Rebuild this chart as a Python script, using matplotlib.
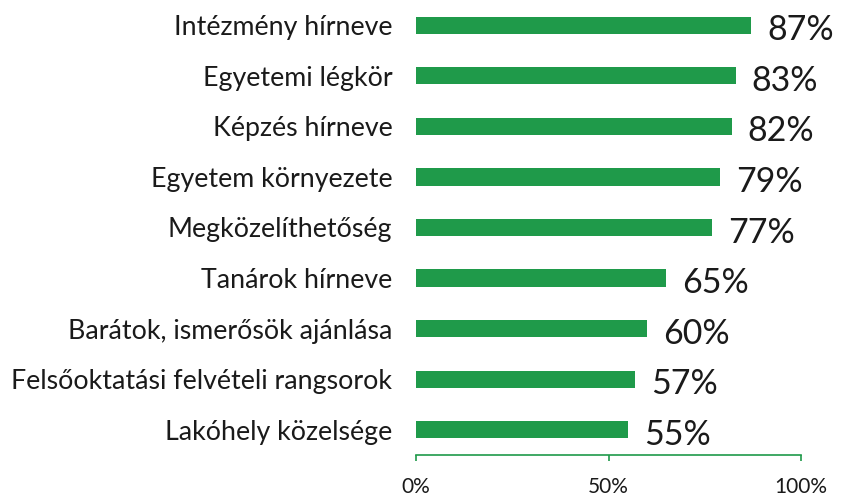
import matplotlib
matplotlib.use('Agg')
import matplotlib.pyplot as plt

categories = [
    "Intézmény hírneve",
    "Egyetemi légkör",
    "Képzés hírneve",
    "Egyetem környezete",
    "Megközelíthetőség",
    "Tanárok hírneve",
    "Barátok, ismerősök ajánlása",
    "Felsőoktatási felvételi rangsorok",
    "Lakóhely közelsége",
]
values = [87, 83, 82, 79, 77, 65, 60, 57, 55]
x_ticks = [0, 50, 100]
x_tick_labels = ["0%", "50%", "100%"]

plt.rcParams['font.family'] = ['Lato', 'DejaVu Sans']

green = '#1f9a4a'

fig = plt.figure(figsize=(8.49, 4.96), dpi=100)
ax = fig.add_axes([416 / 849, 41 / 496, 385 / 849, 455 / 496])

# bottom-to-top order
cats = categories[::-1]
vals = values[::-1]
y = range(len(cats))

ax.barh(y, vals, height=0.34, color=green, edgecolor='none')

for yi, v in zip(y, vals):
    ax.text(v + 4.2, yi - 0.1, f"{v}%", va='center', ha='left',
            fontsize=24.5, color='#1a1a1a')

ax.set_xlim(0, 100)
ax.set_ylim(-0.5, len(cats) - 0.5)
ax.set_yticks(list(y))
ax.set_yticklabels(cats, fontsize=19.3, color='#1a1a1a')
ax.tick_params(axis='y', length=0, pad=17)

ax.set_xticks(x_ticks)
ax.set_xticklabels(x_tick_labels, fontsize=15, color='#1a1a1a')
ax.tick_params(axis='x', direction='out', length=4.5, width=1.2,
               color=green, pad=11)

for side in ['top', 'right', 'left']:
    ax.spines[side].set_visible(False)
ax.spines['bottom'].set_color(green)
ax.spines['bottom'].set_linewidth(1.2)

fig.savefig('out.png', dpi=100, facecolor='white')
